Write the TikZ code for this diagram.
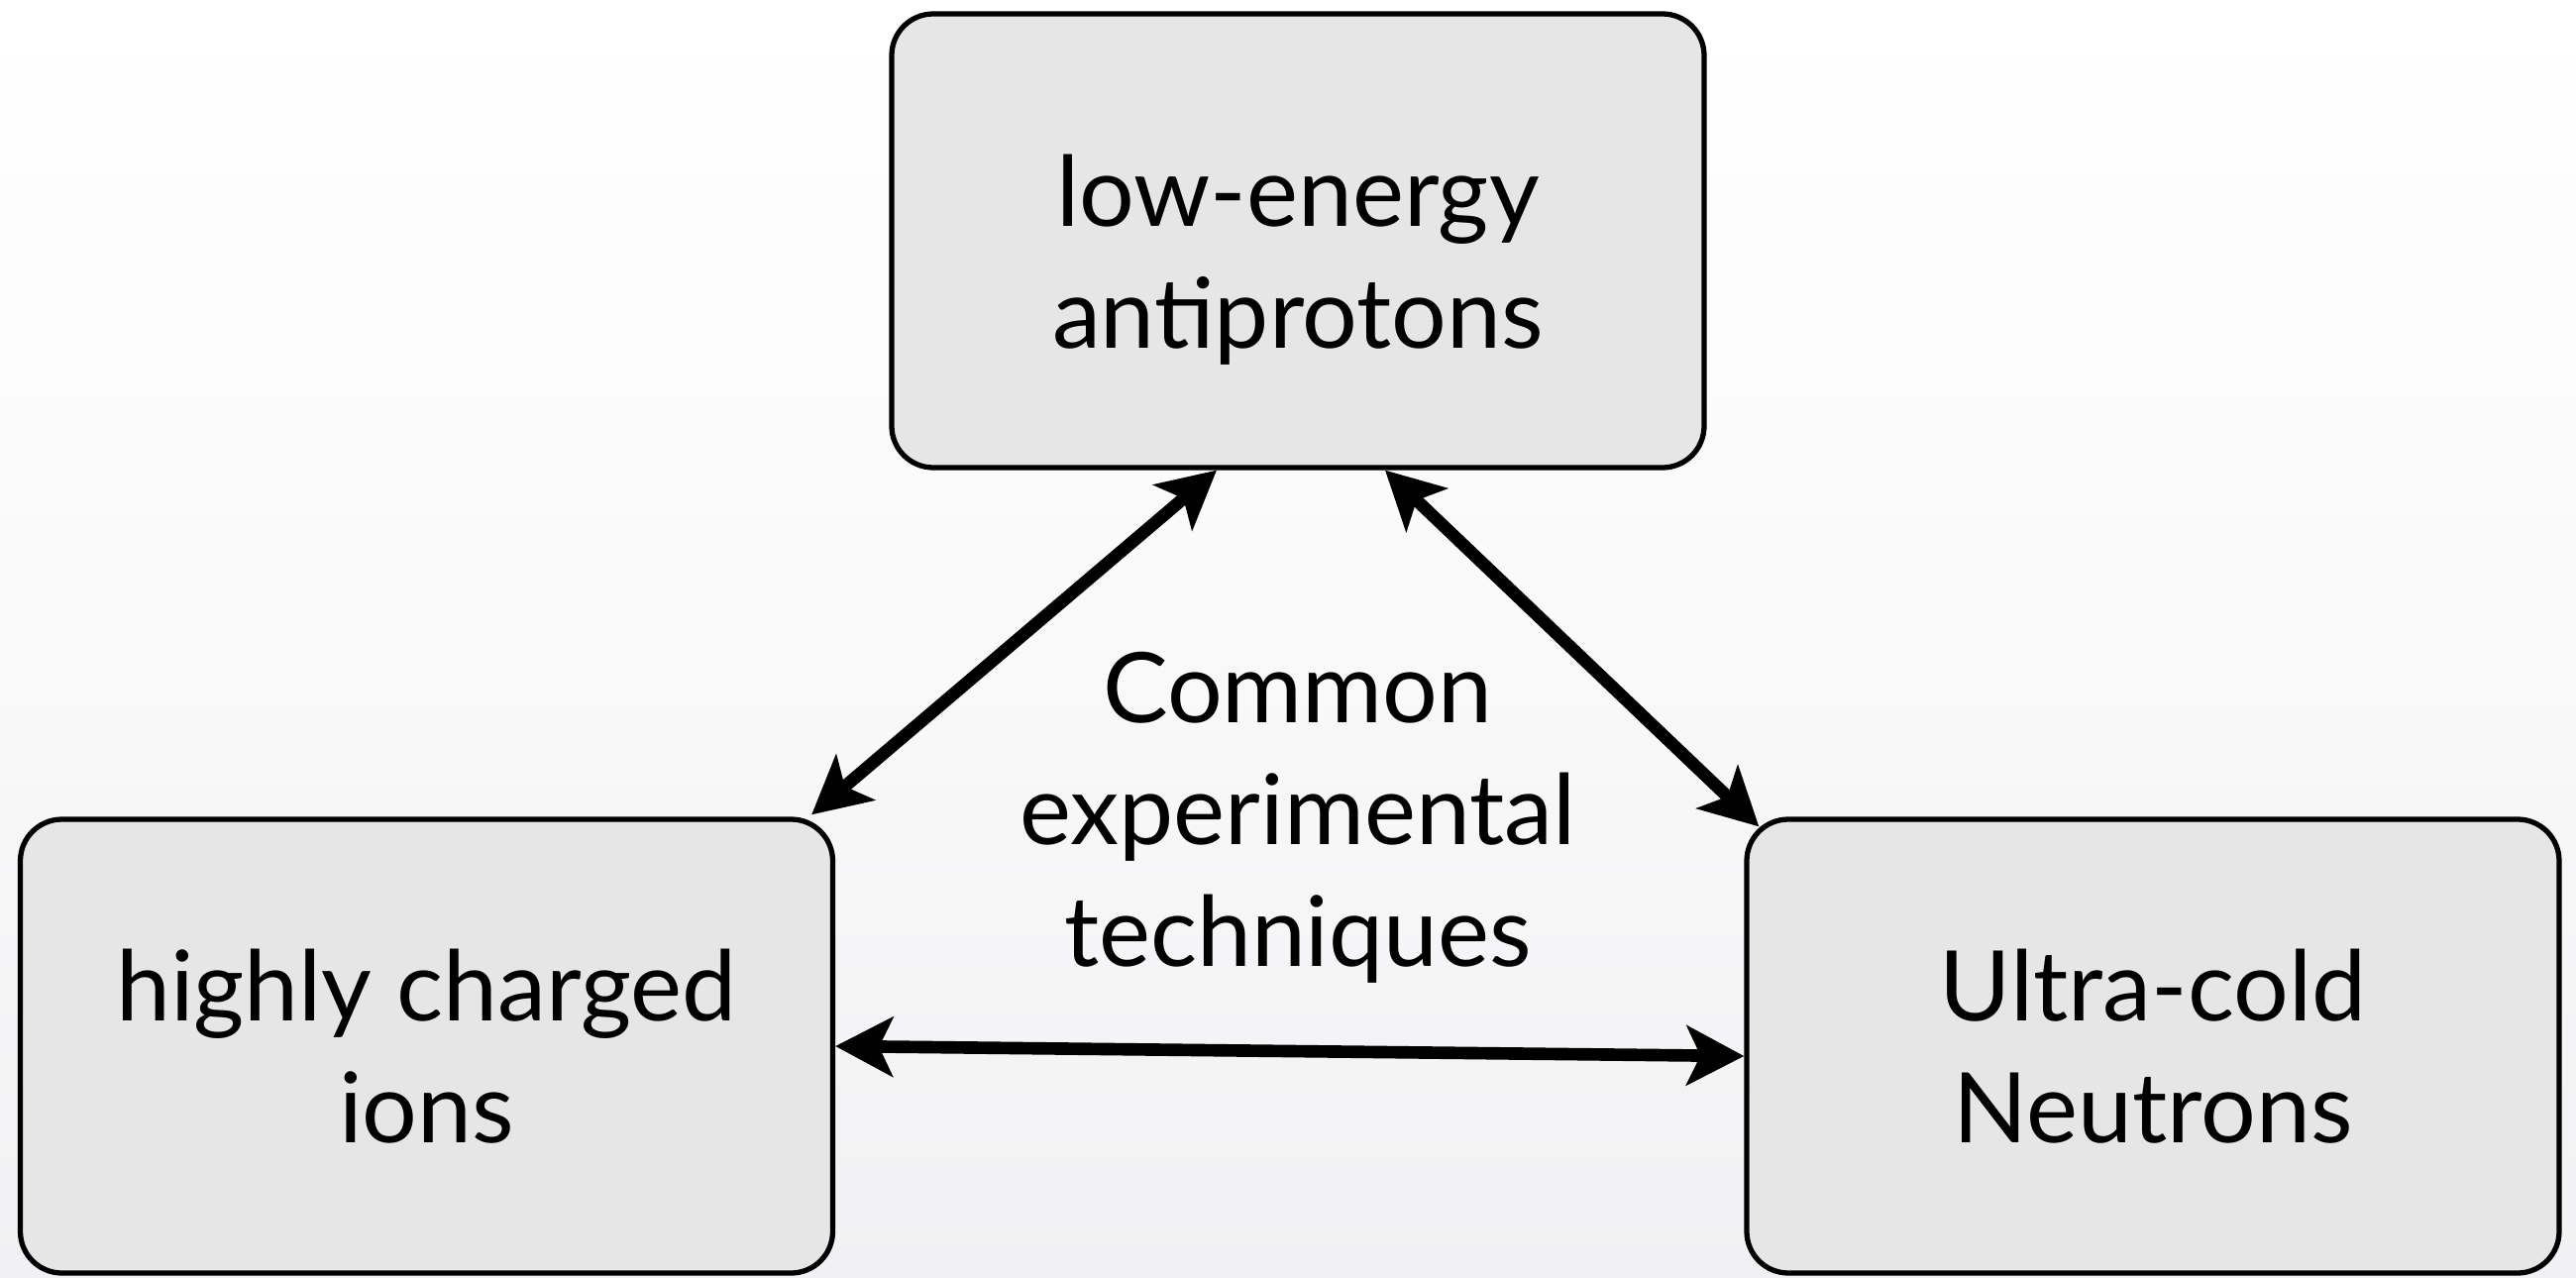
\documentclass[tikz,border=0pt]{standalone}
\usepackage{fontspec}
\setmainfont{Lato}
\usetikzlibrary{positioning,arrows.meta}

\definecolor{boxgray}{HTML}{E6E6E6}
\definecolor{bgbottom}{HTML}{F1F1F3}

\begin{document}
\begin{tikzpicture}[
  topic/.style={draw,line width=1.5pt,rounded corners=0.42cm,fill=boxgray,
    minimum width=8.2cm,minimum height=4.58cm,align=center,
    font=\fontsize{28}{35}\selectfont},
  link/.style={{Stealth[length=0.58cm,width=0.6cm,inset=0.14cm]}-{Stealth[length=0.58cm,width=0.6cm,inset=0.14cm]},
    line width=3.6pt}
]

% background
\shade[top color=white,bottom color=bgbottom,middle color=white!60!bgbottom] (0,0) rectangle (26,12.89);
\useasboundingbox (0,0) rectangle (26,12.89);

\node[topic] (pbar) at (13.10,10.46) {\rule{0pt}{1.1cm}low-energy\\antiprotons};
\node[topic] (hci) at (4.305,2.33) {highly charged\\ions};
\node[topic] (ucn) at (21.73,2.33) {Ultra-cold\\Neutrons};

\node[align=center,font=\fontsize{28}{35}\selectfont] (common) at (13.10,4.64) {Common\\experimental\\techniques};

\draw[link] ([xshift=-0.82cm]pbar.south) -- ([shift={(-0.24,0.02)}]hci.north east);
\draw[link] ([xshift=0.88cm]pbar.south) -- ([shift={(0.15,-0.1)}]ucn.north west);
\draw[link] (hci.east) -- ([yshift=-0.1cm]ucn.west);

\end{tikzpicture}
\end{document}
